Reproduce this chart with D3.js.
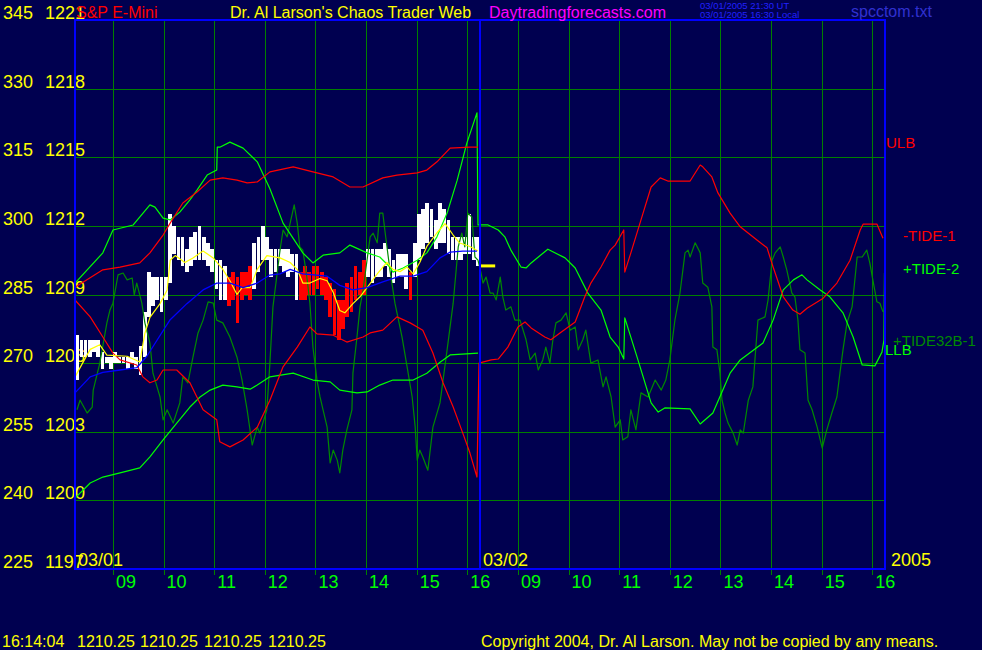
<!DOCTYPE html>
<html><head><meta charset="utf-8">
<script src="https://cdn.jsdelivr.net/npm/d3@7"></script>
<style>
body{margin:0;background:#000050;}
svg{display:block;}
text{font-family:"Liberation Sans",Arial,sans-serif;}
</style>
</head><body>
<svg id="c" width="982" height="650"></svg>
<script>
// ---------- DATA ----------
const leftTicks  = [345,330,315,300,285,270,255,240,225];
const rightTicks = [1221,1218,1215,1212,1209,1206,1203,1200,1197];
const dayLabels  = ["03/01","03/02"];
const hourLabels = ["09","10","11","12","13","14","15","16"];
const yearLabel  = "2005";
const sessionStart = 8.25;   // 08:15
const sessionLen = 8;        // hours per day session
const barMinutes = 5;

// 5-minute price bars, day 1 (S&P E-Mini)
const barHigh = [1207.25,1207.0,1207.0,1207.0,1207.0,1207.0,1206.5,1206.25,1206.25,1206.5,
1206.25,1206.25,1206.25,1206.5,1206.25,1206.75,1208.25,1210.0,1209.75,1209.75,
1209.75,1209.75,1212.5,1212.0,1211.5,1211.5,1211.0,1211.5,1211.75,1212.0,
1211.5,1211.25,1211.0,1210.5,1210.5,1210.25,1209.75,1210.0,1209.75,1210.0,
1210.0,1210.25,1211.25,1211.5,1212.0,1211.5,1211.0,1211.0,1211.0,1211.0,
1211.0,1210.75,1210.75,1210.0,1210.25,1210.0,1210.25,1210.25,1210.0,1209.75,
1209.5,1209.25,1208.75,1208.75,1209.5,1209.75,1210.25,1210.0,1210.5,1211.0,
1211.0,1211.0,1211.0,1211.25,1211.0,1210.5,1210.75,1210.75,1210.75,1210.0,
1211.25,1212.5,1212.75,1213.0,1212.75,1212.25,1213.0,1212.75,1212.25,1211.5,
1211.5,1211.5,1211.5,1212.5,1211.5,1211.5];
const barLow = [1205.25,1206.25,1206.25,1206.25,1206.5,1206.25,1205.75,1206.0,1205.75,1206.0,
1206.0,1206.0,1205.75,1206.0,1205.75,1205.5,1206.25,1208.0,1208.5,1208.75,
1208.25,1208.75,1209.5,1210.75,1210.5,1210.25,1210.0,1210.25,1210.5,1210.5,
1210.5,1210.25,1210.0,1209.25,1208.75,1208.75,1208.5,1208.75,1207.75,1208.75,
1209.0,1208.75,1209.25,1210.0,1210.5,1210.5,1209.75,1210.0,1210.25,1210.0,
1209.75,1210.0,1208.75,1208.75,1208.75,1209.0,1209.0,1209.25,1209.0,1208.75,
1208.0,1207.25,1207.0,1207.5,1208.0,1208.25,1208.75,1209.0,1209.0,1209.75,
1209.5,1209.75,1209.75,1210.25,1209.75,1209.5,1209.75,1209.75,1209.25,1208.75,
1209.75,1210.5,1211.0,1211.25,1211.5,1211.0,1211.25,1211.25,1210.75,1210.5,
1210.5,1210.5,1210.75,1210.75,1210.5,1210.25];
const barColor = ("wwwwwwwwwwwwwwwwwwwwwwwwwwwwwwwwwwww"+"rrrrrr"+"wwwwwwwwwww"+
  "rrrrrrrrrrrrrrrr"+"wwwwwwwwww"+"r"+"wwwwwwwwwwwwwwww").split("");
const lastPrice = 1210.25;

// short moving average (yellow), [session hour, price]
const maShort = [[0,1205.4],[0.30,1206.6],[0.49,1206.8],[0.63,1206.35],[1.03,1206.3],[1.28,1206.05],
[1.38,1207.3],[1.48,1208.0],[1.68,1208.6],[1.82,1209.2],[1.88,1210.5],[1.98,1210.7],[2.17,1210.4],
[2.33,1210.6],[2.53,1210.9],[2.73,1210.6],[2.92,1210.1],[3.06,1209.6],[3.20,1209.0],[3.30,1209.3],
[3.46,1209.3],[3.60,1210.1],[3.79,1210.7],[4.05,1210.6],[4.25,1210.4],[4.39,1210.1],[4.50,1209.5],
[4.64,1209.5],[4.84,1209.7],[4.98,1209.6],[5.10,1209.1],[5.23,1208.3],[5.33,1208.2],[5.49,1208.6],
[5.63,1208.9],[5.77,1209.3],[5.97,1209.9],[6.16,1210.4],[6.28,1210.1],[6.42,1210.0],[6.56,1210.2],
[6.68,1209.9],[6.81,1210.4],[6.95,1211.1],[7.15,1211.7],[7.31,1212.1],[7.47,1211.6],[7.60,1211.25],
[7.80,1211.1],[7.96,1210.9]];

// long moving average (blue)
const maLong = [[0,1204.7],[0.30,1205.4],[0.55,1205.6],[0.89,1205.7],[1.22,1205.8],[1.42,1206.3],
[1.62,1207.0],[1.88,1207.9],[2.21,1208.6],[2.53,1209.2],[2.80,1209.5],[3.06,1209.5],[3.32,1209.3],
[3.60,1209.5],[3.85,1209.85],[4.05,1209.9],[4.25,1210.1],[4.50,1209.9],[4.98,1209.8],[5.23,1209.4],
[5.49,1209.2],[5.77,1209.3],[6.08,1209.55],[6.42,1209.8],[6.68,1209.8],[6.95,1210.0],[7.21,1210.6],
[7.41,1210.85],[7.66,1210.9],[7.94,1210.9]];

// upper red band (ULB), day 1, left scale
const ulb = [[0,286.6],[0.55,290.4],[0.89,291.0],[1.28,291.9],[1.48,294.1],[1.74,298.0],[1.88,300.6],
[2.13,305.0],[2.41,307.4],[2.67,310.0],[2.92,310.5],[3.20,310.0],[3.40,309.4],[3.60,309.6],[3.85,311.8],
[4.31,312.9],[4.70,311.8],[5.10,310.7],[5.43,308.5],[5.69,308.5],[6.08,310.5],[6.36,311.1],[6.76,311.6],
[6.95,312.2],[7.15,314.0],[7.41,317.0],[7.80,317.2],[7.96,317.2]];

// lower green band (LLB), day 1
const llb = [[0,240.5],[0.30,243.8],[0.55,245.1],[0.89,246.0],[1.28,247.1],[1.48,249.5],[1.74,253.2],
[2.01,256.9],[2.27,260.4],[2.47,262.6],[2.67,264.1],[2.92,265.2],[3.20,264.8],[3.46,264.3],[3.60,265.2],
[3.85,267.0],[4.31,267.8],[4.70,266.3],[5.04,265.9],[5.23,264.1],[5.57,263.5],[5.77,263.7],[6.02,265.2],
[6.28,266.3],[6.68,266.3],[6.95,267.8],[7.21,270.2],[7.41,271.8],[7.96,272.2]];

// -TIDE-1 (red)
const tide1 = [[0,283.8],[0.30,280.1],[0.55,275.7],[0.75,272.2],[0.89,270.7],[1.22,269.6],[1.34,267.0],
[1.48,265.7],[1.62,266.3],[1.74,268.5],[2.01,268.5],[2.27,265.7],[2.53,259.8],[2.80,257.6],[2.86,252.8],
[3.06,251.7],[3.32,253.2],[3.60,256.0],[3.85,261.9],[4.11,269.2],[4.39,273.5],[4.64,277.9],[4.78,276.4],
[5.10,276.1],[5.37,274.6],[5.69,275.7],[5.83,276.6],[6.08,277.2],[6.36,280.1],[6.62,278.8],[6.87,277.2],
[7.07,272.2],[7.27,265.7],[7.47,260.4],[7.66,254.7],[7.80,250.4],[7.94,245.1],[7.98,270.0],[8.22,270.7],
[8.36,270.9],[8.55,273.5],[8.75,277.9],[8.89,279.0],[9.01,277.7],[9.28,275.7],[9.40,275.1],[9.58,276.6],
[9.88,279.0],[10.07,284.5],[10.19,287.5],[10.39,291.0],[10.57,294.7],[10.67,295.8],[10.84,299.1],
[10.86,289.9],[10.98,294.1],[11.18,301.3],[11.38,308.5],[11.56,310.5],[11.71,309.8],[12.15,309.8],
[12.35,313.3],[12.40,312.9],[12.58,310.7],[12.70,307.2],[12.94,302.8],[13.14,299.8],[13.47,296.9],
[13.67,295.2],[13.79,291.0],[13.99,284.5],[14.18,281.6],[14.32,280.7],[14.46,282.0],[14.78,284.2],
[15.05,287.5],[15.31,292.5],[15.51,299.1],[15.57,300.4],[15.84,300.4],[15.96,297.3]];

// +TIDE-2 (bright green)
const tide2 = [[0,287.5],[0.55,294.1],[0.75,299.1],[1.15,300.2],[1.48,304.6],[1.58,304.1],[1.74,301.7],
[1.88,301.3],[2.07,303.0],[2.27,305.7],[2.41,307.8],[2.61,311.1],[2.80,312.2],[2.81,317.2],[2.86,317.2],
[3.06,318.3],[3.32,317.0],[3.60,314.0],[3.85,308.1],[4.11,300.6],[4.50,294.1],[4.70,291.9],[4.90,293.6],
[5.23,294.1],[5.43,295.8],[5.77,294.1],[6.02,293.2],[6.22,291.0],[6.28,289.9],[6.48,290.8],[6.76,292.5],
[6.95,294.1],[7.15,297.6],[7.35,302.8],[7.55,310.0],[7.74,318.1],[7.94,324.7],[7.96,300.2],[8.16,300.2],
[8.36,299.1],[8.49,297.6],[8.61,294.7],[8.81,291.0],[8.91,290.8],[9.01,291.9],[9.34,294.9],[9.68,293.0],
[9.88,290.8],[10.13,285.3],[10.39,281.6],[10.57,275.7],[10.73,273.5],[10.84,270.9],[10.86,279.9],
[11.12,270.7],[11.38,261.3],[11.52,259.3],[11.65,260.2],[12.15,260.0],[12.35,256.7],[12.60,259.1],
[12.94,267.8],[13.14,270.7],[13.59,274.4],[13.79,279.4],[13.99,286.0],[14.19,288.2],[14.36,289.3],
[14.46,288.2],[14.72,286.0],[14.91,284.5],[15.17,281.0],[15.37,275.7],[15.55,269.6],[15.80,269.4],
[15.94,272.4],[15.98,275.1],[15.99,289.7]];

// +TIDE32B-1 (dark green)
const tide32 = [[0.04,259.8],[0.10,261.9],[0.24,259.1],[0.34,260.4],[0.36,264.1],[0.49,270.0],[0.63,278.8],
[0.69,281.6],[0.75,283.1],[0.85,289.3],[0.95,289.7],[1.03,288.2],[1.13,288.6],[1.17,284.9],[1.22,287.5],
[1.32,283.1],[1.38,278.8],[1.48,274.4],[1.54,267.8],[1.68,262.6],[1.74,257.6],[1.82,259.8],[1.94,256.9],
[2.07,261.3],[2.13,267.0],[2.23,265.7],[2.33,271.3],[2.43,276.6],[2.53,279.4],[2.63,283.4],[2.73,283.1],
[2.80,279.4],[2.92,278.8],[3.06,275.7],[3.20,271.3],[3.30,266.3],[3.40,259.8],[3.50,252.1],[3.60,256.0],
[3.65,254.7],[3.79,259.8],[3.85,270.0],[3.91,282.3],[4.05,294.7],[4.11,299.1],[4.19,297.6],[4.25,300.6],
[4.33,304.6],[4.39,300.6],[4.44,295.4],[4.50,294.7],[4.58,288.8],[4.64,283.1],[4.70,273.5],[4.78,266.3],
[4.84,262.6],[4.90,259.8],[4.98,256.0],[5.04,248.2],[5.10,251.0],[5.18,248.8],[5.23,246.0],[5.29,251.0],
[5.37,255.4],[5.47,259.8],[5.49,267.8],[5.57,275.7],[5.63,282.3],[5.69,286.0],[5.83,297.6],[5.89,298.4],
[5.97,296.3],[6.02,302.8],[6.08,302.8],[6.12,299.1],[6.22,290.4],[6.32,283.1],[6.46,275.7],[6.56,269.2],
[6.66,262.6],[6.72,256.0],[6.76,248.8],[6.81,251.0],[6.87,249.5],[6.97,246.6],[7.07,256.0],[7.21,261.3],
[7.35,272.9],[7.47,283.1],[7.57,295.4],[7.64,298.4],[7.70,295.4],[7.76,302.8],[7.84,301.9],[7.90,293.2],
[7.96,292.5],[8.02,289.7],[8.06,287.5],[8.12,288.8],[8.20,285.3],[8.26,285.3],[8.32,283.8],[8.40,288.8],
[8.45,284.5],[8.51,281.6],[8.61,282.3],[8.69,279.4],[8.79,279.4],[8.91,275.1],[8.99,270.7],[9.09,272.2],
[9.15,268.5],[9.24,270.7],[9.30,273.5],[9.38,270.0],[9.44,275.1],[9.50,278.8],[9.60,279.4],[9.70,281.0],
[9.78,277.2],[9.88,277.9],[9.94,272.9],[10.03,275.1],[10.09,277.2],[10.19,270.0],[10.33,270.7],[10.43,264.8],
[10.49,267.0],[10.59,262.6],[10.67,256.0],[10.77,257.6],[10.82,253.2],[10.92,253.9],[10.98,259.8],[11.08,255.4],
[11.18,263.5],[11.32,262.6],[11.46,266.3],[11.58,264.1],[11.67,266.3],[11.75,270.7],[11.85,279.4],[11.95,285.3],
[12.05,294.1],[12.11,294.7],[12.15,293.2],[12.25,296.3],[12.35,294.1],[12.40,287.5],[12.50,286.6],[12.58,282.3],
[12.60,273.5],[12.68,272.9],[12.74,267.8],[12.78,261.9],[12.84,259.1],[12.90,256.9],[13.00,254.7],[13.08,252.1],
[13.14,255.4],[13.20,254.7],[13.30,261.9],[13.39,264.8],[13.49,279.4],[13.63,280.1],[13.69,283.8],[13.77,292.5],
[13.83,294.1],[13.93,295.4],[13.99,293.2],[14.06,290.4],[14.16,285.3],[14.22,284.5],[14.28,279.4],[14.32,272.9],
[14.42,272.2],[14.48,261.9],[14.56,259.8],[14.66,256.0],[14.76,251.4],[14.85,255.4],[14.95,259.1],[15.05,262.6],
[15.11,267.8],[15.17,272.9],[15.25,278.8],[15.35,282.3],[15.45,293.2],[15.55,293.2],[15.64,294.7],[15.70,291.9],
[15.76,288.2],[15.84,283.4],[15.90,283.1],[15.96,281.2]];

// ---------- DRAW ----------
const W=982,H=650;
const X0=75,X1=885,Y0=20,Y1=569;
const svg=d3.select("#c");
const x=d3.scaleLinear().domain([0,2*sessionLen]).range([X0,X1]);
const yL=d3.scaleLinear().domain([225,345]).range([Y1,Y0]);
const yP=d3.scaleLinear().domain([1197,1221]).range([Y1,Y0]);

svg.append("rect").attr("width",W).attr("height",H).attr("fill","#000050");

// horizontal grid (from left axis ticks)
const gGrid=svg.append("g").attr("shape-rendering","crispEdges");
gGrid.selectAll("line.h").data(leftTicks.slice(1,-1)).join("line")
  .attr("x1",X0).attr("x2",X1).attr("y1",d=>Math.round(yL(d))+0.5).attr("y2",d=>Math.round(yL(d))+0.5)
  .attr("stroke","#008000").attr("stroke-width",1);

// vertical hour grid + ticks
const hourPos=[];
dayLabels.forEach((dl,di)=>hourLabels.forEach(h=>hourPos.push({t:di*sessionLen+(+h)-sessionStart,lab:h})));
gGrid.selectAll("line.v").data(hourPos).join("line")
  .attr("x1",d=>Math.round(x(d.t))+0.5).attr("x2",d=>Math.round(x(d.t))+0.5)
  .attr("y1",Y0).attr("y2",Y1+6).attr("stroke","#008000").attr("stroke-width",1);

// axis labels
const gAx=svg.append("g").attr("font-size",18).attr("fill","#ffff00");
gAx.selectAll("text.l").data(leftTicks).join("text").attr("x",3).attr("y",d=>yL(d)-1).text(d=>d);
gAx.selectAll("text.r").data(rightTicks).join("text").attr("x",45).attr("y",d=>yP(d)-1).text(d=>d);
svg.append("g").attr("font-size",18).attr("fill","#00ff00")
  .selectAll("text").data(hourPos).join("text")
  .attr("x",d=>x(d.t)+3).attr("y",Y1+19).text(d=>d.lab);
svg.append("g").attr("font-size",18).attr("fill","#ffff00")
  .selectAll("text").data(dayLabels).join("text")
  .attr("x",(d,i)=>x(i*sessionLen)+3).attr("y",Y1-3).text(d=>d);
svg.append("text").attr("font-size",18).attr("fill","#ffff00").attr("x",X1+6).attr("y",Y1-3).text(yearLabel);

// price bars
const slot=x(barMinutes/60)-x(0);
const barT0=i=>i*barMinutes/60;
svg.append("g").attr("shape-rendering","crispEdges").selectAll("rect").data(barHigh).join("rect")
  .attr("x",(d,i)=>x(barT0(i))+0.3).attr("width",slot-0.5)
  .attr("y",d=>yP(d)).attr("height",(d,i)=>Math.max(2,yP(barLow[i])-yP(d)))
  .attr("fill",(d,i)=>barColor[i]==="r"?"#ff0000":"#ffffff");

// lines
const lineL=d3.line().x(d=>x(d[0])).y(d=>yL(d[1]));
const lineP=d3.line().x(d=>x(d[0])).y(d=>yP(d[1]));
const addPath=(data,gen,color,w)=>svg.append("path").datum(data).attr("d",gen)
  .attr("fill","none").attr("stroke",color).attr("stroke-width",w).attr("stroke-linejoin","round");
addPath(tide32,lineL,"#008a00",1.2);
addPath(llb,lineL,"#00ff00",1.2);
addPath(tide2,lineL,"#00ff00",1.2);
addPath(ulb,lineL,"#ff0000",1.2);
addPath(tide1,lineL,"#ff0000",1.2);
addPath(maShort,lineP,"#ffff00",1.2);
addPath(maLong,lineP,"#0000ff",1.3);

// last price marker
svg.append("line").attr("x1",x(sessionLen)+1).attr("x2",x(sessionLen+0.3))
  .attr("y1",yP(lastPrice)).attr("y2",yP(lastPrice)).attr("stroke","#ffff00").attr("stroke-width",3);

// frame
const gF=svg.append("g").attr("stroke","#0000ff").attr("stroke-width",2).attr("fill","none").attr("shape-rendering","crispEdges");
gF.append("rect").attr("x",X0).attr("y",Y0).attr("width",X1-X0).attr("height",Y1-Y0);
gF.append("line").attr("x1",x(sessionLen)).attr("x2",x(sessionLen)).attr("y1",Y0).attr("y2",Y1);

// right-side series labels
const sl=svg.append("g").attr("font-size",15);
sl.append("text").attr("x",886).attr("y",148).attr("fill","#ff0000").text("ULB");
sl.append("text").attr("x",903).attr("y",241).attr("fill","#ff0000").text("-TIDE-1");
sl.append("text").attr("x",903).attr("y",274).attr("fill","#00ff00").text("+TIDE-2");
sl.append("text").attr("x",893).attr("y",346).attr("fill","#008a00").text("+TIDE32B-1");
sl.append("text").attr("x",885).attr("y",355).attr("fill","#00ff00").text("LLB");

// header
svg.append("text").attr("x",76).attr("y",18).attr("font-size",16).attr("fill","#ff0000").text("S&P E-Mini");
svg.append("text").attr("x",230).attr("y",18).attr("font-size",16).attr("fill","#ffff00").text("Dr. Al Larson's Chaos Trader Web");
svg.append("text").attr("x",489).attr("y",18).attr("font-size",16).attr("fill","#ff00ff").text("Daytradingforecasts.com");
svg.append("text").attr("x",700).attr("y",9).attr("font-size",9.5).attr("fill","#2020ff").text("03/01/2005 21:30 UT");
svg.append("text").attr("x",700).attr("y",18).attr("font-size",9.5).attr("fill","#2020ff").text("03/01/2005 16:30 Local");
svg.append("text").attr("x",851).attr("y",17).attr("font-size",16).attr("fill","#3030d0").text("spcctom.txt");

// footer
const ft=svg.append("g").attr("font-size",16).attr("fill","#ffff00");
ft.append("text").attr("x",2).attr("y",647).text("16:14:04");
[77,140,204,268].forEach(px=>ft.append("text").attr("x",px).attr("y",647).text(lastPrice.toFixed(2)));
ft.append("text").attr("x",481).attr("y",647).text("Copyright 2004, Dr. Al Larson. May not be copied by any means.");
</script>
</body></html>
